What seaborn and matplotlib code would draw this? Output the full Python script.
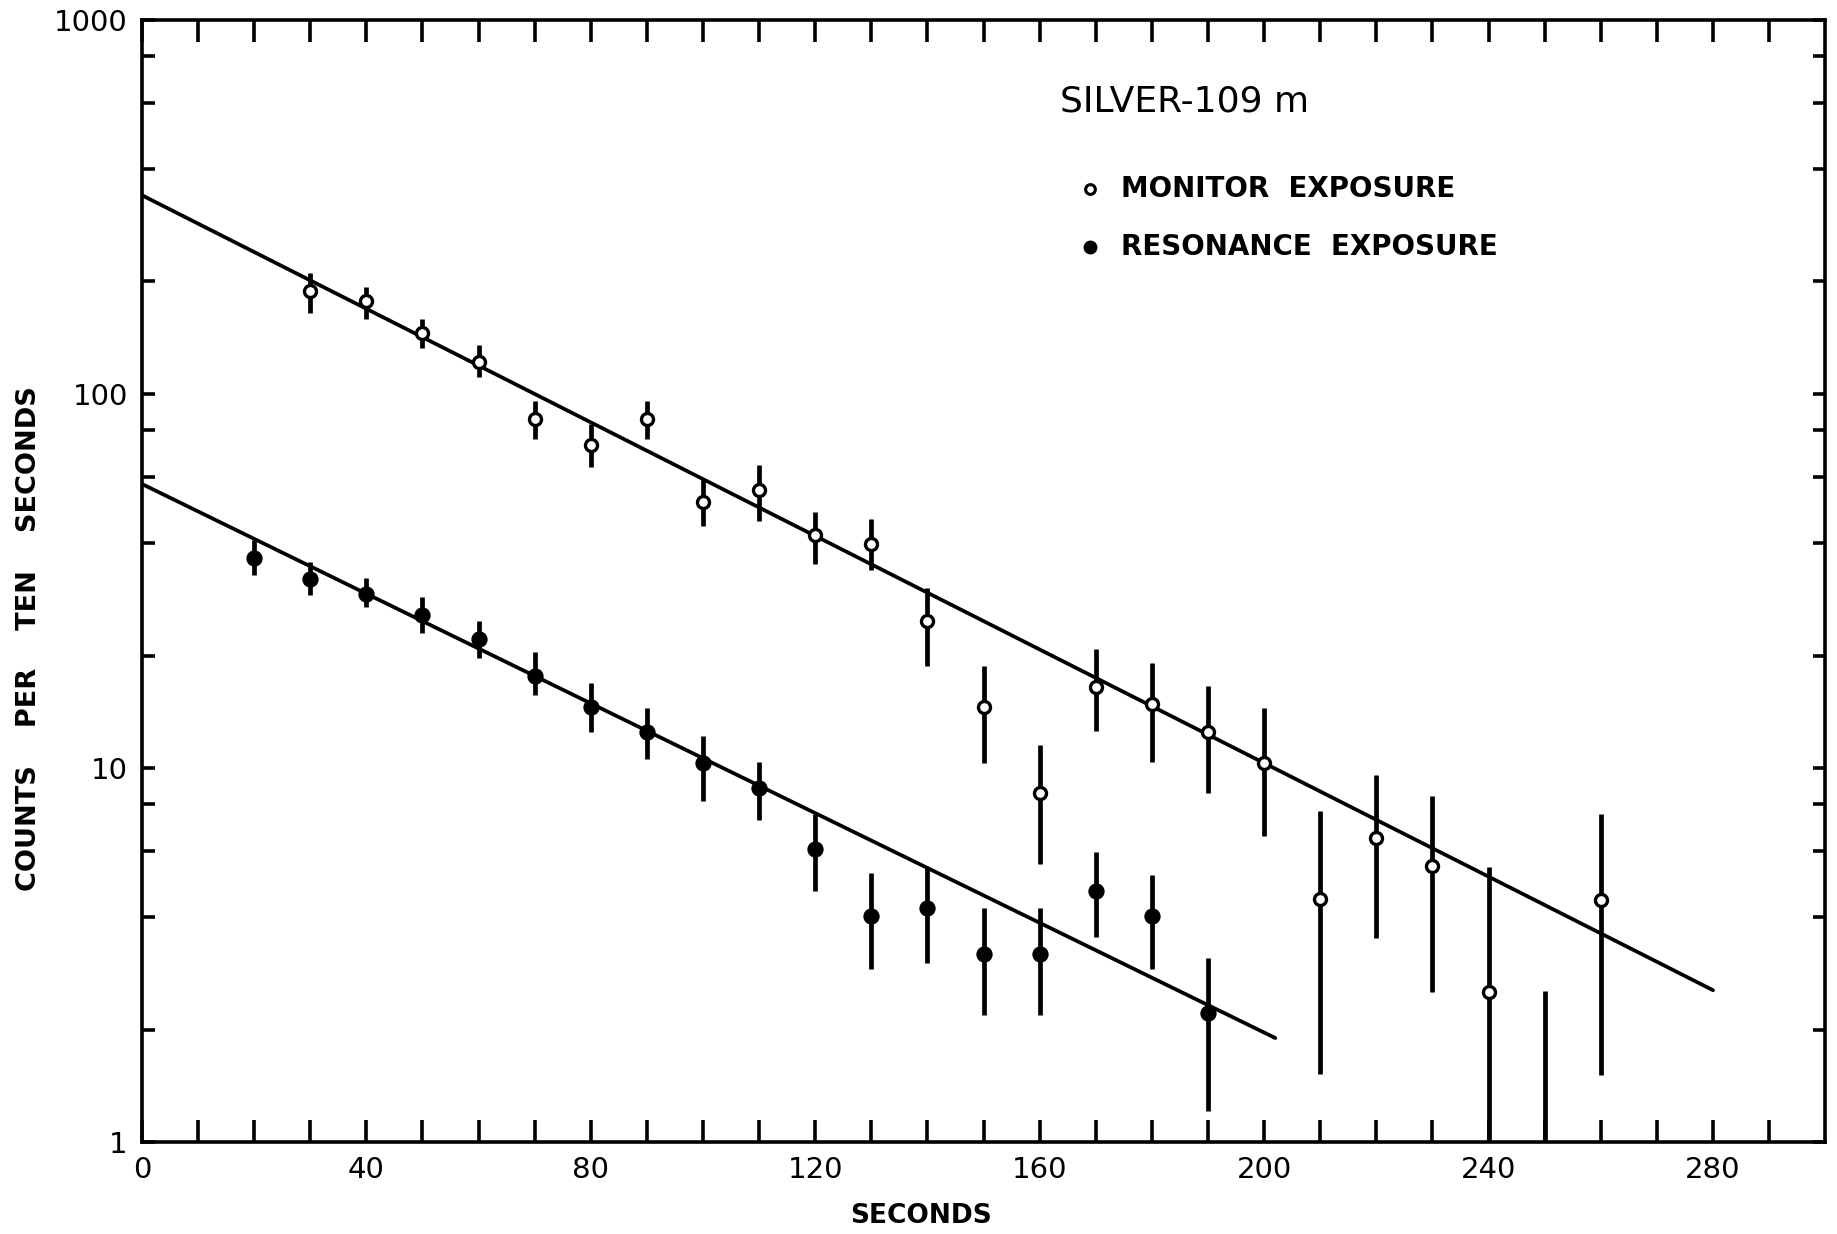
import matplotlib
matplotlib.use("Agg")
import matplotlib.pyplot as plt
from matplotlib.ticker import LogLocator, NullFormatter
import numpy as np
import pandas as pd
import seaborn as sns

# ---------------- data ----------------
# Monitor exposure (open circles)
mon_t = [30, 40, 50, 60, 70, 80, 90, 100, 110, 120, 130, 140, 150, 160,
         170, 180, 190, 200, 210, 220, 230, 240, 250, 260]
mon_counts = [189, 177, 146, 122, 86, 73, 85.5, 51.3, 55.5, 41.9, 39.8, 24.8, 14.6, 8.6,
              16.5, 14.8, 12.5, 10.3, 4.48, 6.5, 5.48, 2.52, np.nan, 4.45]
mon_lo = [165, 159, 133, 111, 76, 63.7, 75.6, 44.4, 45.7, 35.2, 33.8, 18.8, 10.3, 5.56,
          12.6, 10.4, 8.6, 6.57, 1.52, 3.51, 2.52, 0.5, 0.5, 1.51]
mon_hi = [211, 193, 159, 135, 96, 83, 96, 58.8, 64.6, 48.4, 46.4, 30.3, 18.7, 11.5,
          20.8, 19.1, 16.6, 14.5, 7.7, 9.6, 8.45, 5.44, 2.54, 7.53]

# Resonance exposure (filled circles)
res_t = [20, 30, 40, 50, 60, 70, 80, 90, 100, 110, 120, 130, 140, 150, 160, 170, 180, 190]
res_counts = [36.5, 32.1, 29.2, 25.7, 22.1, 17.6, 14.6, 12.5, 10.3, 8.83, 6.07, 4.02,
              4.23, 3.19, 3.19, 4.71, 4.02, 2.21]
res_lo = [32.8, 29.0, 27.0, 23.0, 19.7, 15.7, 12.5, 10.6, 8.15, 7.27, 4.71, 2.91,
          3.02, 2.19, 2.19, 3.53, 2.91, 1.215]
res_hi = [40.7, 35.5, 32.3, 28.6, 24.8, 20.4, 16.9, 14.5, 12.2, 10.4, 7.53, 5.25,
          5.44, 4.23, 4.23, 5.98, 5.18, 3.10]

# Fitted decay lines (end points)
fit_mon_t = [0, 280]
fit_mon_c = [340, 2.55]
fit_res_t = [0, 202]
fit_res_c = [57.5, 1.9]

# Text
title_text = "SILVER-109 m"
legend_labels = ["MONITOR  EXPOSURE", "RESONANCE  EXPOSURE"]
x_label = "SECONDS"
y_label = "COUNTS    PER    TEN    SECONDS"
xtick_vals = list(range(0, 300, 10))
xtick_labeled = [0, 40, 80, 120, 160, 200, 240, 280]
ytick_vals = [1, 10, 100, 1000]
ytick_labels = ["1", "10", "100", "1000"]

# ---------------- drawing ----------------
sns.set_theme(style="ticks")
plt.rcParams["font.family"] = ["DejaVu Sans"]
plt.rcParams["text.color"] = "black"
plt.rcParams["axes.labelcolor"] = "black"

fig = plt.figure(figsize=(18.37, 12.34), dpi=100)
ax = fig.add_axes([0.0772, 0.0743, 0.9164, 0.9096])
ax.set_yscale("log")

df_mon = pd.DataFrame({"t": mon_t, "c": mon_counts})
df_res = pd.DataFrame({"t": res_t, "c": res_counts})

# error bars
ax.vlines(mon_t, mon_lo, mon_hi, color="black", lw=3.4, zorder=2)
ax.vlines(res_t, res_lo, res_hi, color="black", lw=3.4, zorder=2)

# fit lines
sns.lineplot(x=fit_mon_t, y=fit_mon_c, ax=ax, color="black", lw=2.7, zorder=2)
sns.lineplot(x=fit_res_t, y=fit_res_c, ax=ax, color="black", lw=2.7, zorder=2)

# points
sns.scatterplot(data=df_mon, x="t", y="c", ax=ax, marker="o", s=75,
                facecolor="white", edgecolor="black", linewidth=2.4, zorder=4)
sns.scatterplot(data=df_res, x="t", y="c", ax=ax, marker="o", s=115,
                color="black", edgecolor="black", linewidth=1, zorder=4)

ax.set_xlim(0, 300)
ax.set_ylim(1, 1000)

# axes styling
for sp in ax.spines.values():
    sp.set_visible(True)
    sp.set_linewidth(2.6)
    sp.set_color("black")

ax.set_xticks(xtick_vals)
ax.set_xticklabels([str(v) if v in xtick_labeled else "" for v in xtick_vals])
ax.set_yticks(ytick_vals)
ax.set_yticklabels(ytick_labels)
ax.yaxis.set_minor_locator(LogLocator(base=10, subs=(2, 4, 6, 8)))
ax.yaxis.set_minor_formatter(NullFormatter())

ax.tick_params(axis="x", which="major", direction="in", length=16, width=2.6,
               top=True, bottom=True, labelsize=21, pad=10, colors="black")
ax.tick_params(axis="y", which="both", direction="in", length=9, width=2.6,
               left=True, right=True, labelsize=21, pad=10, colors="black")

ax.set_xlabel(x_label, fontsize=19, fontweight="bold", color="black")
ax.xaxis.set_label_coords(0.4628, -0.054)
ax.set_ylabel(y_label, fontsize=19.5, fontweight="bold", color="black")
ax.yaxis.set_label_coords(-0.059, 0.449)

# title and legend inside the plot
ax.text(0.5456, 0.927, title_text, transform=ax.transAxes, fontsize=26,
        ha="left", va="center", color="black")
ax.plot([0.563], [0.8497], transform=ax.transAxes, marker="o", ms=7,
        mfc="white", mec="black", mew=2.2, ls="none")
ax.plot([0.563], [0.7975], transform=ax.transAxes, marker="o", ms=9,
        mfc="black", mec="black", ls="none")
ax.text(0.5818, 0.8497, legend_labels[0], transform=ax.transAxes, fontsize=20,
        fontweight="bold", ha="left", va="center", color="black")
ax.text(0.5818, 0.7975, legend_labels[1], transform=ax.transAxes, fontsize=20,
        fontweight="bold", ha="left", va="center", color="black")

ax.grid(False)
fig.savefig("out.png", dpi=100, facecolor="white")
